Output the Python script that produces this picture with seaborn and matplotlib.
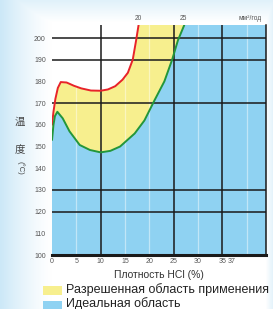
import numpy as np
import matplotlib
matplotlib.use("Agg")
import matplotlib.pyplot as plt
import seaborn as sns
from matplotlib.patches import Rectangle

# HCl concentration (%) and temperature (C)
red_pct = [0, 0.3, 0.7, 1.2, 1.8, 3, 4.5, 6, 8, 10, 11.5, 13, 14.5, 15.6, 16.6, 17.3, 17.8]
red_temp = [160, 166, 172, 177, 179.7, 179.5, 178, 176.8, 175.8, 175.7, 176.3, 177.8, 180.8, 184, 190, 199, 206]

green_pct = [0, 0.3, 0.6, 1.1, 2.2, 3.6, 5.7, 7.8, 10, 12, 14, 17, 19, 21.1, 23.1, 24.7, 25.9, 27.2]
green_temp = [153, 160, 164, 166, 163, 157, 150.7, 148.4, 147.3, 148, 150, 156, 162, 171.4, 180, 190, 199, 206]

x_ticks = [0, 5, 10, 15, 20, 25, 30, 35, 37]
y_ticks = [100, 110, 120, 130, 140, 150, 160, 170, 180, 190, 200]
black_h = [120, 130, 170, 190, 200]
black_v = [10, 25, 35]
faint_v = [5, 15, 20, 30, 40]
top_labels = ["20", "25", "мм²/год"]
legend_labels = ["Разрешенная область применения", "Идеальная область"]

xmin, xmax = 0, 44
ymin, ymax = 100, 206

yellow = "#f7ef8e"
blue = "#8fd2f2"

sns.set_style("white")
plt.rcParams['font.family'] = ['Liberation Sans', 'DejaVu Sans']

fig = plt.figure(figsize=(2.73, 3.09), dpi=100)

# soft blue background fading to white
bg = fig.add_axes([0, 0, 1, 1], zorder=-10)
gx = np.linspace(0, 1, 273)
gy = np.linspace(0, 1, 309)
X, Y = np.meshgrid(gx, gy)
amt = np.clip(1 - X / 0.19, 0, 1) ** 1.3
amt = np.maximum(amt, np.clip(1 - Y / 0.07, 0, 1) * 0.6)
amt = np.maximum(amt, np.clip((X - 0.975) / 0.025, 0, 1) * 0.5)
img = np.ones((309, 273, 3))
base = np.array([0.80, 0.91, 0.97])
img = img * (1 - amt[..., None]) + base * amt[..., None]
bg.imshow(img, aspect="auto", extent=[0, 1, 0, 1])
bg.axis("off")

ax = fig.add_axes([52 / 273, 54 / 309, 214 / 273, 230 / 309])
ax.set_facecolor("white")

# blue ideal region below green curve
blue_x = green_pct + [xmax, xmax, xmin]
blue_y = green_temp + [ymax, ymin, ymin]
ax.fill(blue_x, blue_y, color=blue, lw=0, zorder=1)

# yellow allowed region between green and red curves
yel_x = red_pct + green_pct[::-1]
yel_y = red_temp + green_temp[::-1]
ax.fill(yel_x, yel_y, color=yellow, lw=0, zorder=1)

for v in faint_v:
    ax.axvline(v, color="white", lw=0.9, alpha=0.45, zorder=2)
for v in black_v:
    ax.axvline(v, color="#1a1a1a", lw=1.1, zorder=3)
for h in black_h:
    ax.axhline(h, color="#1a1a1a", lw=1.1, zorder=3)

sns.lineplot(x=red_pct, y=red_temp, ax=ax, color="#e8232a", lw=1.4, sort=False, zorder=4)
sns.lineplot(x=green_pct, y=green_temp, ax=ax, color="#23963a", lw=1.4, sort=False, zorder=4)

ax.set_xlim(xmin, xmax)
ax.set_ylim(ymin, ymax)
ax.set_xticks(x_ticks)
ax.set_xticklabels([str(t) for t in x_ticks])
ax.set_yticks(y_ticks)
ax.tick_params(axis="both", labelsize=5, colors="#555555", length=3, width=0.6, pad=1.5)
ax.tick_params(axis="x", length=0, pad=2.5)

for s in ["left", "top"]:
    ax.spines[s].set_visible(False)
ax.spines["right"].set_color("#1a1a1a")
ax.spines["right"].set_linewidth(1.1)
ax.spines["bottom"].set_color("#1a1a1a")
ax.spines["bottom"].set_linewidth(2.2)

ax.set_xlabel("Плотность HCl (%)", fontsize=7.5, color="#333333", labelpad=3)

# labels above the top edge
for lab, px in zip(top_labels, [138, 183, 250]):
    fig.text(px / 273, 1 - 19 / 309, lab, fontsize=4.8, color="#555555", ha="center", va="center")

# vertical y label
fig.text(20 / 273, 1 - 122 / 309, "温", fontsize=7.5, color="#444444", ha="center", va="center",
         family=["Noto Sans CJK SC", "DejaVu Sans"])
fig.text(20 / 273, 1 - 150 / 309, "度", fontsize=7.5, color="#444444", ha="center", va="center",
         family=["Noto Sans CJK SC", "DejaVu Sans"])
fig.text(20 / 273, 1 - 168 / 309, "(°C)", fontsize=5.5, color="#444444", ha="center", va="center",
         rotation=270)

# legend
fig.patches.append(Rectangle((43 / 273, 1 - 295 / 309), 19 / 273, 9 / 309,
                             transform=fig.transFigure, color=yellow, lw=0))
fig.patches.append(Rectangle((43 / 273, 1 - 309 / 309), 19 / 273, 8 / 309,
                             transform=fig.transFigure, color=blue, lw=0))
fig.text(66 / 273, 1 - 290 / 309, legend_labels[0], fontsize=9, color="#222222", va="center")
fig.text(66 / 273, 1 - 304 / 309, legend_labels[1], fontsize=9, color="#222222", va="center")

fig.savefig("out.png", dpi=100)
